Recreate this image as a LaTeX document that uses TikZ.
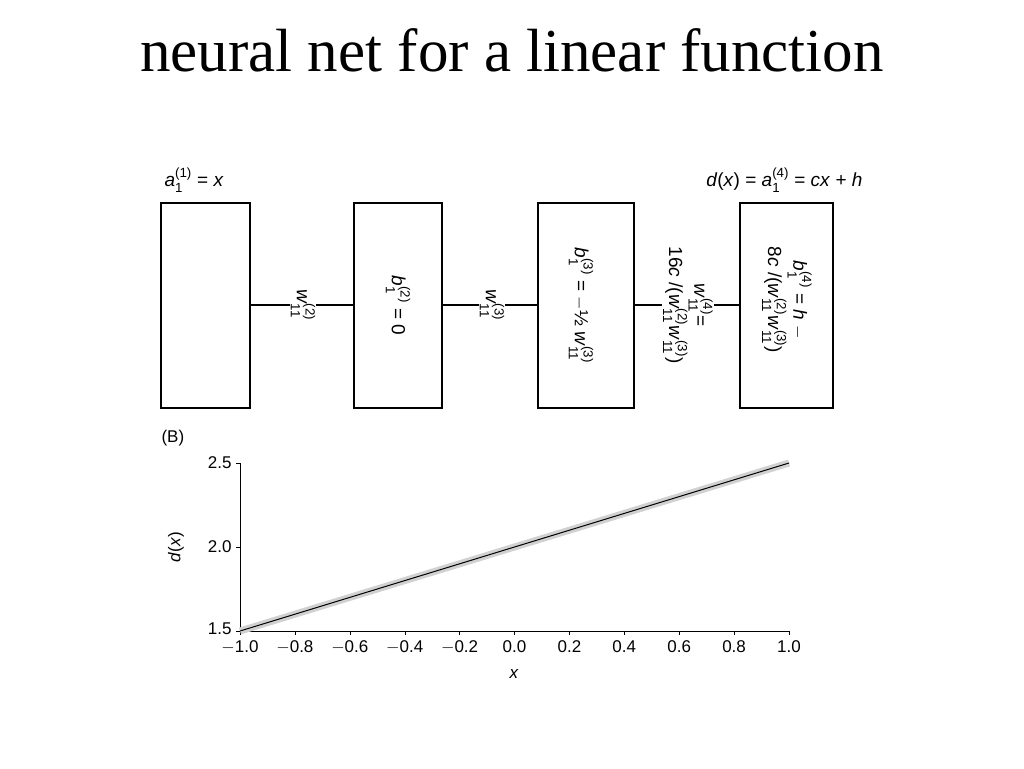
\documentclass[tikz,border=0pt]{standalone}
\usepackage{amsmath}
\usepackage{fontspec}
\setmainfont{Liberation Sans}
\newfontfamily\titlefont{Liberation Serif}
\newcommand\vi[1]{\textit{#1}}
\newcommand\sbp[2]{_{\text{#1}}^{\text{#2}}}
\begin{document}
\begin{tikzpicture}[x=1pt,y=-1pt,
  lay/.style={draw,line width=2.6pt,minimum width=#1,minimum height=205pt,inner sep=0pt},
  lbl/.style={font=\fontsize{19}{21}\selectfont},
  rl/.style={lbl,rotate=-90,align=center,inner sep=1pt},
  tk/.style={font=\fontsize{17}{19}\selectfont}]
\useasboundingbox (0,0) rectangle (1024,768);
\node[font=\titlefont\fontsize{61}{66}\selectfont] (title) at (512,50) {neural net for a linear function};
\node[lay=89pt] (L1) at (205.5,305.5) {};
\node[lay=88pt] (L2) at (398,305.5) {};
\node[lay=96pt] (L3) at (586,305.5) {};
\node[lay=93pt] (L4) at (786.5,305.5) {};
\node[rl] (B2) at (398,305.5) {\vi{b}$\sbp{1}{(2)}$ = 0};
\node[rl] (B3) at (581,305.5) {\vi{b}$\sbp{1}{(3)}$ = $-$\textonehalf\ \vi{w}$\sbp{11}{(3)}$};
\node[rl] (B4) at (787,300) {\vi{b}$\sbp{1}{(4)}$ = \vi{h} $-$\\8\vi{c} /(\vi{w}$\sbp{11}{(2)}$\vi{w}$\sbp{11}{(3)}$)};
\node[rl] (W2) at (303,305) {\vi{w}$\sbp{11}{(2)}$};
\node[rl] (W3) at (492,305) {\vi{w}$\sbp{11}{(3)}$};
\node[rl] (W4) at (688,305) {\vi{w}$\sbp{11}{(4)}$=\\16\vi{c} /(\vi{w}$\sbp{11}{(2)}$\vi{w}$\sbp{11}{(3)}$)};
\draw[line width=2.6pt] (L1.east|-W2) -- (W2.south); \draw[line width=2.6pt] (W2.north) -- (L2.west|-W2);
\draw[line width=2.6pt] (L2.east|-W3) -- (W3.south); \draw[line width=2.6pt] (W3.north) -- (L3.west|-W3);
\draw[line width=2.6pt] (L3.east|-W4) -- (W4.south); \draw[line width=2.6pt] (W4.north) -- (L4.west|-W4);
\node[lbl,anchor=south west] (in) at (161,196) {\vi{a}$\sbp{1}{(1)}$ = \vi{x}};
\node[lbl,anchor=south east] (out) at (866,196) {\vi{d}(\vi{x}) = \vi{a}$\sbp{1}{(4)}$ = \vi{cx} + \vi{h}};
% plot
\node[tk,anchor=west] (Bl) at (158,438) {(B)};
\coordinate (O) at (240,631);
\draw[line width=0.8pt] (240,463) -- (O) -- (789,631);
\foreach \v/\y in {2.5/463,2.0/547,1.5/629}{
  \node[tk,anchor=east] at (235,\y) {\v};}
\foreach \y in {463,547,631} \draw (240,\y) -- (236,\y);
\foreach \v [count=\i from 0] in {$-$1.0,$-$0.8,$-$0.6,$-$0.4,$-$0.2,0.0,0.2,0.4,0.6,0.8,1.0}{
  \pgfmathsetmacro\xx{240+\i*54.9}
  \draw (\xx,631) -- (\xx,635);
  \node[tk,anchor=north] at (\xx,637) {\v};}
\node[tk,rotate=90] (yl) at (176,547) {\vi{d}(\vi{x})};
\node[tk] (xl) at (514,674) {\vi{x}};
\coordinate (P0) at (240,631); \coordinate (P1) at (789,463);
\draw[line width=7pt,black!18] (P0) -- (P1);
\draw[line width=1pt] (P0) -- (P1);
\end{tikzpicture}
\end{document}
